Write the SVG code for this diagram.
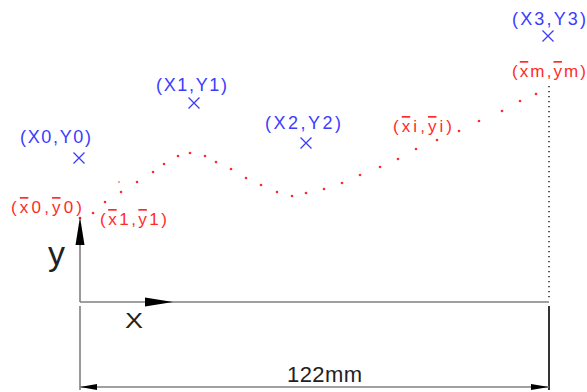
<svg xmlns="http://www.w3.org/2000/svg" width="587" height="392" viewBox="0 0 587 392">
<style>
.blue{fill:#3c3cff;font-family:"Liberation Sans",Arial,sans-serif;font-size:18px}
.red{fill:#ff2a2a;font-family:"Liberation Sans",Arial,sans-serif;font-size:17px}
.ov{text-decoration:overline}
.mk{stroke:#3c3cff;stroke-width:1.3;fill:none}
.dot{fill:#ff2a2a}
.ax{stroke:#808080;stroke-width:1.6;fill:none}
.blk{stroke:#000;stroke-width:1.6;fill:none}
.ah{fill:#000}
.lbl{fill:#222;font-family:"Liberation Sans",Arial,sans-serif}
</style>
<defs>
<path id="cross" d="M-5.5,-5.5L5.5,5.5M-5.5,5.5L5.5,-5.5" class="mk"/>
</defs>
<rect width="587" height="392" fill="#fff"/>

<g id="P0">
<text class="blue" x="20" y="143" textLength="71" lengthAdjust="spacing">(X0,Y0)</text>
<use href="#cross" x="79" y="158"/>
</g>
<g id="P1">
<text class="blue" x="156" y="91" textLength="71" lengthAdjust="spacing">(X1,Y1)</text>
<use href="#cross" x="194" y="103"/>
</g>
<g id="P2">
<text class="blue" x="265" y="129" textLength="76" lengthAdjust="spacing">(X2,Y2)</text>
<use href="#cross" x="306" y="143"/>
</g>
<g id="P3">
<text class="blue" x="512" y="25" textLength="74" lengthAdjust="spacing">(X3,Y3)</text>
<use href="#cross" x="548" y="36"/>
</g>

<g id="R0"><text class="red" x="11" y="213" textLength="71" lengthAdjust="spacing">(<tspan class="ov">x</tspan>0,<tspan class="ov">y</tspan>0)</text></g>
<g id="R1"><text class="red" x="100" y="225" textLength="67" lengthAdjust="spacing">(<tspan class="ov">x</tspan>1,<tspan class="ov">y</tspan>1)</text></g>
<g id="Ri"><text class="red" x="393" y="132" textLength="59" lengthAdjust="spacing">(<tspan class="ov">x</tspan>i,<tspan class="ov">y</tspan>i)</text></g>
<g id="Rm"><text class="red" x="512" y="77" textLength="74" lengthAdjust="spacing">(<tspan class="ov">x</tspan>m,<tspan class="ov">y</tspan>m)</text></g>

<g id="curve">
<circle class="dot" cx="80" cy="218" r="1.3"/>
<circle class="dot" cx="93" cy="213" r="1.3"/>
<circle class="dot" cx="105" cy="202" r="1.3"/>
<circle class="dot" cx="121" cy="192" r="1.3"/>
<circle class="dot" cx="119" cy="182" r="0.8"/>
<circle class="dot" cx="137" cy="182" r="1.3"/>
<circle class="dot" cx="153" cy="172" r="1.3"/>
<circle class="dot" cx="164" cy="164" r="1.3"/>
<circle class="dot" cx="178" cy="156" r="1.3"/>
<circle class="dot" cx="190" cy="153" r="1.3"/>
<circle class="dot" cx="205" cy="156" r="1.3"/>
<circle class="dot" cx="216" cy="162" r="1.3"/>
<circle class="dot" cx="231" cy="169" r="1.3"/>
<circle class="dot" cx="246" cy="178" r="1.3"/>
<circle class="dot" cx="261" cy="185" r="1.3"/>
<circle class="dot" cx="277" cy="192" r="1.3"/>
<circle class="dot" cx="292" cy="196" r="1.3"/>
<circle class="dot" cx="306" cy="193" r="1.3"/>
<circle class="dot" cx="324" cy="189" r="1.3"/>
<circle class="dot" cx="342" cy="183" r="1.3"/>
<circle class="dot" cx="360" cy="175" r="1.3"/>
<circle class="dot" cx="380" cy="167" r="1.3"/>
<circle class="dot" cx="398" cy="159" r="1.3"/>
<circle class="dot" cx="416" cy="149" r="1.3"/>
<circle class="dot" cx="437" cy="140" r="1.3"/>
<circle class="dot" cx="459" cy="131" r="1.3"/>
<circle class="dot" cx="479" cy="121" r="1.3"/>
<circle class="dot" cx="502" cy="111" r="1.3"/>
<circle class="dot" cx="520" cy="101" r="1.3"/>
<circle class="dot" cx="536" cy="94" r="1.3"/>
</g>

<g id="connectors">
<line x1="549" y1="86" x2="549" y2="300" stroke="#000" stroke-width="1.3" stroke-dasharray="1.3 3.7"/>
<line class="ax" x1="80" y1="302" x2="80" y2="240"/>
<polygon class="ah" points="80,217 75.5,245 84.5,245"/>
<line class="ax" x1="80" y1="302" x2="549" y2="302"/>
<polygon class="ah" points="173,302 145,297.5 145,306.5"/>
<line class="ax" x1="80" y1="306" x2="80" y2="390"/>
<line class="blk" x1="549" y1="306" x2="549" y2="390"/>
<line class="ax" x1="80" y1="387" x2="549" y2="387"/>
<polygon class="ah" points="80,387 97,384 97,390"/>
<polygon class="ah" points="549,387 531,384 531,390"/>
</g>

<text class="lbl" x="125" y="328" font-size="22" textLength="18" lengthAdjust="spacingAndGlyphs">X</text>
<text class="lbl" x="48" y="265" font-size="34" fill="#555">y</text>
<text class="lbl" x="287" y="382" font-size="22" textLength="75" lengthAdjust="spacing">122mm</text>
</svg>
